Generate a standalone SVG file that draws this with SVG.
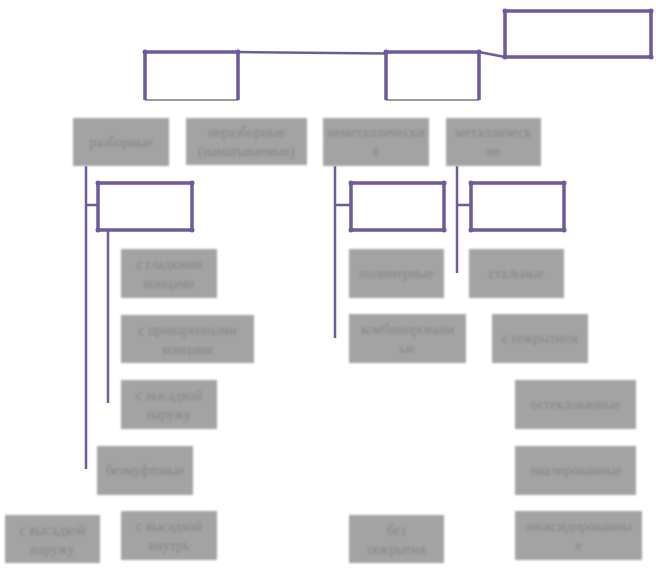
<svg xmlns="http://www.w3.org/2000/svg" width="656" height="571" viewBox="0 0 656 571">
<defs>
<filter id="soft" x="-10%" y="-10%" width="120%" height="120%"><feGaussianBlur stdDeviation="0.8"/></filter>
<style>
.g rect{fill:#a3a3a3}
.g text{fill:#858585;font-family:"Liberation Serif","Times New Roman",serif;font-size:14px;text-anchor:middle}
.p{fill:none;stroke:#6f5a9b;stroke-width:3.5}
.c{fill:none;stroke:#6f5a9b;stroke-width:2.5}
.d{fill:#6f5a9b}
.sh{stroke:#9a9a9a;stroke-width:2;fill:none}
</style>
</defs>
<rect width="656" height="571" fill="#fff"/>

<g id="connectors">
<line class="c" x1="238" y1="52" x2="386" y2="53.5"/>
<line class="c" x1="479" y1="52" x2="505" y2="57" stroke-width="3.5"/>
<line class="c" x1="86" y1="166" x2="86" y2="469"/>
<line class="c" x1="86" y1="205" x2="98" y2="205"/>
<line class="c" x1="108" y1="230" x2="108" y2="403"/>
<line class="c" x1="335" y1="166" x2="335" y2="338"/>
<line class="c" x1="335" y1="205" x2="351" y2="205"/>
<line class="c" x1="457" y1="166" x2="457" y2="273"/>
<line class="c" x1="457" y1="205" x2="471" y2="205"/>
</g>

<g id="top-right">
<rect class="p" x="505" y="11" width="146" height="46"/>
<circle class="d" cx="505" cy="11" r="2.5"/><circle class="d" cx="651" cy="11" r="2.5"/>
<circle class="d" cx="505" cy="57" r="2.5"/><circle class="d" cx="651" cy="57" r="2.5"/>
</g>
<g id="box-a">
<line class="sh" x1="145" y1="100" x2="238" y2="100"/>
<path class="p" d="M145 100V52H238V100"/>
<circle class="d" cx="145" cy="52" r="2.5"/><circle class="d" cx="238" cy="52" r="2.5"/>
</g>
<g id="box-b">
<line class="sh" x1="386" y1="100" x2="479" y2="100"/>
<path class="p" d="M386 100V52H479V100"/>
<circle class="d" cx="386" cy="52" r="2.5"/><circle class="d" cx="479" cy="52" r="2.5"/>
</g>
<g id="box-c">
<rect class="p" x="98" y="183" width="94" height="47"/>
<circle class="d" cx="98" cy="183" r="2.5"/><circle class="d" cx="192" cy="183" r="2.5"/>
<circle class="d" cx="98" cy="230" r="2.5"/><circle class="d" cx="192" cy="230" r="2.5"/>
</g>
<g id="box-d">
<rect class="p" x="351" y="183" width="93" height="47"/>
<circle class="d" cx="351" cy="183" r="2.5"/><circle class="d" cx="444" cy="183" r="2.5"/>
<circle class="d" cx="351" cy="230" r="2.5"/><circle class="d" cx="444" cy="230" r="2.5"/>
</g>
<g id="box-e">
<rect class="p" x="471" y="183" width="93" height="47"/>
<circle class="d" cx="471" cy="183" r="2.5"/><circle class="d" cx="564" cy="183" r="2.5"/>
<circle class="d" cx="471" cy="230" r="2.5"/><circle class="d" cx="564" cy="230" r="2.5"/>
</g>

<g class="g" filter="url(#soft)">
<g id="razbornye"><rect x="73" y="118" width="96" height="48"/><text x="121" y="147">разборные</text></g>
<g id="nerazbornye"><rect x="186" y="118" width="121" height="47"/><text x="246.5" y="137">неразборные</text><text x="246.5" y="156">(наматываемые)</text></g>
<g id="nemetallicheskie"><rect x="323" y="118" width="106" height="48"/><text x="376" y="137">неметаллически</text><text x="376" y="156">е</text></g>
<g id="metallicheskie"><rect x="446" y="118" width="95" height="48"/><text x="493.5" y="137">металлическ</text><text x="493.5" y="156">ие</text></g>
<g id="gladkie"><rect x="121" y="249" width="96" height="49"/><text x="169" y="269">с гладкими</text><text x="169" y="288">концами</text></g>
<g id="privarennye"><rect x="121" y="315" width="133" height="48"/><text x="187.5" y="335">с приваренными</text><text x="187.5" y="354">концами</text></g>
<g id="vysadka1"><rect x="121" y="380" width="96" height="49"/><text x="169" y="400">с высадкой</text><text x="169" y="419">наружу</text></g>
<g id="bezmuftovye"><rect x="97" y="446" width="96" height="49"/><text x="145" y="475">безмуфтовые</text></g>
<g id="vysadka2"><rect x="5" y="515" width="95" height="48"/><text x="52.5" y="535">с высадкой</text><text x="52.5" y="554">наружу</text></g>
<g id="vnutr"><rect x="121" y="511" width="96" height="49"/><text x="169" y="531">с высадкой</text><text x="169" y="550">внутрь</text></g>
<g id="polimernye"><rect x="349" y="249" width="95" height="49"/><text x="396.5" y="278">полимерные</text></g>
<g id="stalnye"><rect x="469" y="249" width="95" height="49"/><text x="516.5" y="278">стальные</text></g>
<g id="kombinirovannye"><rect x="349" y="314" width="117" height="49"/><text x="407.5" y="334">комбинировани</text><text x="407.5" y="353">ые</text></g>
<g id="pokrytiem"><rect x="492" y="314" width="96" height="49"/><text x="540" y="343">с покрытием</text></g>
<g id="osteklovannye"><rect x="515" y="380" width="121" height="49"/><text x="575.5" y="409">остеклованные</text></g>
<g id="emalirovannye"><rect x="515" y="446" width="121" height="49"/><text x="575.5" y="475">эмалированные</text></g>
<g id="epoksid"><rect x="515" y="511" width="127" height="49"/><text x="578.5" y="531">эпоксидированны</text><text x="578.5" y="550">е</text></g>
<g id="bez"><rect x="349" y="515" width="95" height="48"/><text x="396.5" y="535">без</text><text x="396.5" y="554">покрытия</text></g>
</g>
</svg>
